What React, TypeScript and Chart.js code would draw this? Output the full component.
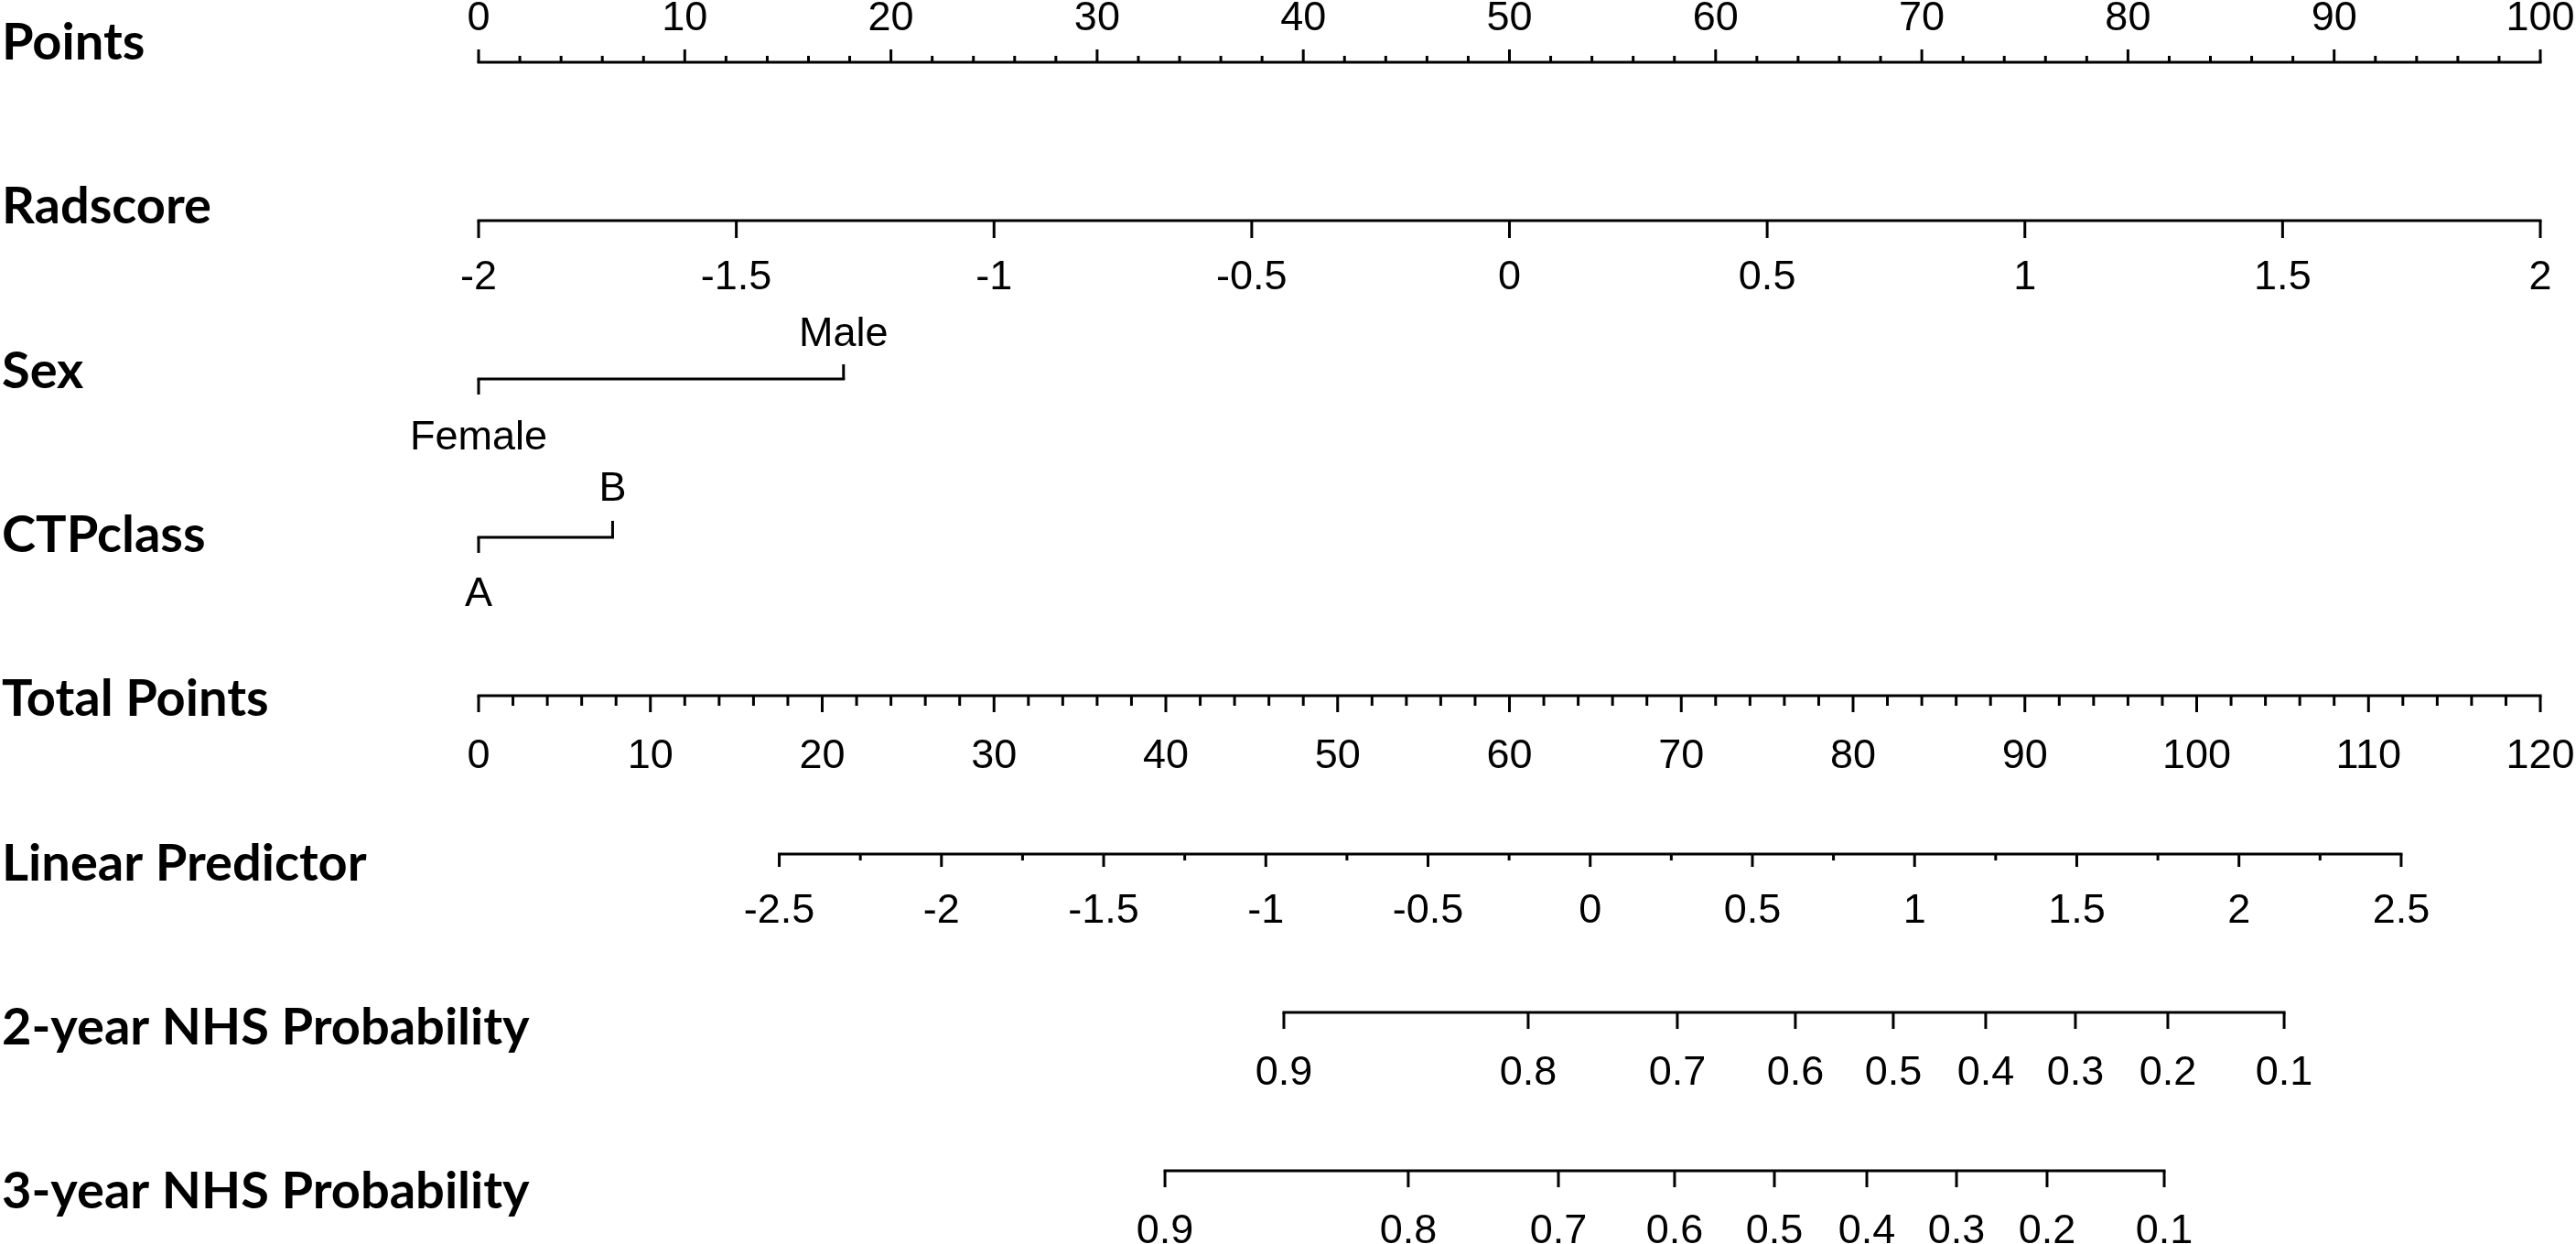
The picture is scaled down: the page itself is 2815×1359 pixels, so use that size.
import React, { useEffect, useRef } from "react";
import { Chart, registerables } from "chart.js";

Chart.register(...registerables);

// ---------------- DATA ----------------
const rowTitles = [
  "Points",
  "Radscore",
  "Sex",
  "CTPclass",
  "Total Points",
  "Linear Predictor",
  "2-year NHS Probability",
  "3-year NHS Probability",
];

// Points scale
const pointsRange = [0, 100];
const pointsMajorStep = 10;
const pointsMinorStep = 2;

// Radscore: value ticks, and the radscore range that spans points 0..100
const radscoreTicks = [-2, -1.5, -1, -0.5, 0, 0.5, 1, 1.5, 2];
const radscoreRange = [-2, 2];

// Sex
const sexLevels = ["Female", "Male"];
const sexPoints = [0, 17.7];

// CTP class
const ctpLevels = ["A", "B"];
const ctpPoints = [0, 6.5];

// Total points scale
const totalRange = [0, 120];
const totalMajorStep = 10;
const totalMinorStep = 2;

// Linear predictor: labelled ticks and total points at its two ends
const lpTicks = [-2.5, -2, -1.5, -1, -0.5, 0, 0.5, 1, 1.5, 2, 2.5];
const lpMinorStep = 0.25;
const lpTotalAtEnds = [17.5, 111.9];

// Survival probabilities and their total-point positions
const probLabels = ["0.9", "0.8", "0.7", "0.6", "0.5", "0.4", "0.3", "0.2", "0.1"];
const prob2yTotal = [46.87, 61.09, 69.77, 76.64, 82.34, 87.72, 92.94, 98.32, 105.09];
const prob3yTotal = [39.95, 54.11, 62.85, 69.61, 75.42, 80.8, 86.02, 91.29, 98.11];

// ---------------- STYLE ----------------
const TICK_FONT = '45px "Liberation Sans", Arial, sans-serif';
const TITLE_FONT = 'bold 56px Lato, "Open Sans", sans-serif';
const TITLE_FIRST_BASELINE = 65;
const TITLE_STEP = 179.3;
const LINE_W = 3;

type TickSpec = { v: number; len: number; label?: string; dy?: number };
type RowSpec = { row: number; axis: "x" | "xt"; ticks: TickSpec[] };

function fmt(v: number) {
  return String(Math.round(v * 100) / 100);
}

function buildRows(): RowSpec[] {
  const rows: RowSpec[] = [];
  // Points
  {
    const ticks: TickSpec[] = [];
    const n = Math.round((pointsRange[1] - pointsRange[0]) / pointsMinorStep);
    const per = Math.round(pointsMajorStep / pointsMinorStep);
    for (let i = 0; i <= n; i++) {
      const v = pointsRange[0] + i * pointsMinorStep;
      if (i % per === 0) ticks.push({ v, len: -14, label: fmt(v), dy: -35 });
      else ticks.push({ v, len: -7 });
    }
    rows.push({ row: 0, axis: "x", ticks });
  }
  // Radscore
  {
    const ticks = radscoreTicks.map((r) => ({
      v:
        pointsRange[0] +
        ((r - radscoreRange[0]) / (radscoreRange[1] - radscoreRange[0])) *
          (pointsRange[1] - pointsRange[0]),
      len: 19,
      label: fmt(r),
      dy: 75,
    }));
    rows.push({ row: 1, axis: "x", ticks });
  }
  // Sex
  rows.push({
    row: 2,
    axis: "x",
    ticks: [
      { v: sexPoints[0], len: 17, label: sexLevels[0], dy: 77 },
      { v: sexPoints[1], len: -16, label: sexLevels[1], dy: -36 },
    ],
  });
  // CTP
  rows.push({
    row: 3,
    axis: "x",
    ticks: [
      { v: ctpPoints[0], len: 17, label: ctpLevels[0], dy: 75 },
      { v: ctpPoints[1], len: -18, label: ctpLevels[1], dy: -40 },
    ],
  });
  // Total points
  {
    const ticks: TickSpec[] = [];
    const n = Math.round((totalRange[1] - totalRange[0]) / totalMinorStep);
    const per = Math.round(totalMajorStep / totalMinorStep);
    for (let i = 0; i <= n; i++) {
      const v = totalRange[0] + i * totalMinorStep;
      if (i % per === 0) ticks.push({ v, len: 18, label: fmt(v), dy: 79 });
      else ticks.push({ v, len: 11 });
    }
    rows.push({ row: 4, axis: "xt", ticks });
  }
  // Linear predictor
  {
    const lpMin = lpTicks[0];
    const lpMax = lpTicks[lpTicks.length - 1];
    const toTotal = (l: number) =>
      lpTotalAtEnds[0] + ((l - lpMin) / (lpMax - lpMin)) * (lpTotalAtEnds[1] - lpTotalAtEnds[0]);
    const ticks: TickSpec[] = [];
    const n = Math.round((lpMax - lpMin) / lpMinorStep);
    for (let i = 0; i <= n; i++) {
      const l = lpMin + i * lpMinorStep;
      const isMajor = lpTicks.some((t) => Math.abs(t - l) < 1e-9);
      if (isMajor) ticks.push({ v: toTotal(l), len: 14, label: fmt(l), dy: 75 });
      else ticks.push({ v: toTotal(l), len: 7 });
    }
    rows.push({ row: 5, axis: "xt", ticks });
  }
  // Probabilities
  rows.push({
    row: 6,
    axis: "xt",
    ticks: prob2yTotal.map((t, i) => ({ v: t, len: 18, label: probLabels[i], dy: 79 })),
  });
  rows.push({
    row: 7,
    axis: "xt",
    ticks: prob3yTotal.map((t, i) => ({ v: t, len: 18, label: probLabels[i], dy: 79 })),
  });
  return rows;
}

export default function App() {
  const ref = useRef<HTMLCanvasElement | null>(null);

  useEffect(() => {
    document.body.style.margin = "0";
    const canvas = ref.current;
    if (!canvas) return;
    const rows = buildRows();

    const datasets = rows.map((r) => {
      const vals = r.ticks.map((t) => t.v);
      return {
        type: "line" as const,
        data: [
          { x: Math.min(...vals), y: r.row },
          { x: Math.max(...vals), y: r.row },
        ],
        xAxisID: r.axis,
        yAxisID: "y",
        borderColor: "#000",
        borderWidth: LINE_W,
        borderCapStyle: "square" as const,
        pointRadius: 0,
        fill: false,
        clip: false as any,
      };
    });

    const nomogramPlugin = {
      id: "nomogram",
      afterDatasetsDraw(chart: any) {
        const ctx: CanvasRenderingContext2D = chart.ctx;
        const ys = chart.scales.y;
        ctx.save();
        ctx.strokeStyle = "#000";
        ctx.fillStyle = "#000";
        ctx.lineWidth = LINE_W;
        ctx.lineCap = "butt";
        ctx.font = TICK_FONT;
        ctx.textAlign = "center";
        ctx.textBaseline = "alphabetic";
        rows.forEach((r) => {
          const xs = chart.scales[r.axis];
          const py = ys.getPixelForValue(r.row);
          r.ticks.forEach((t) => {
            const px = xs.getPixelForValue(t.v);
            ctx.beginPath();
            ctx.moveTo(px, py);
            ctx.lineTo(px, py + t.len);
            ctx.stroke();
            if (t.label !== undefined) {
              ctx.fillText(t.label, px, py + (t.dy || 0));
            }
          });
        });
        ctx.font = TITLE_FONT;
        ctx.textAlign = "left";
        rowTitles.forEach((title, i) => {
          ctx.fillText(title, 2, TITLE_FIRST_BASELINE + i * TITLE_STEP);
        });
        ctx.restore();
      },
    };

    const chart = new Chart(canvas, {
      type: "line",
      data: { datasets: datasets as any },
      options: {
        responsive: false,
        animation: false,
        events: [],
        layout: { padding: { left: 523, right: 39, top: 68, bottom: 80 } },
        scales: {
          x: { type: "linear", min: pointsRange[0], max: pointsRange[1], display: false },
          xt: { type: "linear", axis: "x", min: totalRange[0], max: totalRange[1], display: false },
          y: { type: "linear", min: 0, max: 7, reverse: true, display: false },
        } as any,
        plugins: {
          legend: { display: false },
          tooltip: { enabled: false },
        },
      },
      plugins: [nomogramPlugin],
    });
    return () => chart.destroy();
  }, []);

  return (
    <div style={{ width: 2815, height: 1359, background: "#fff" }}>
      <canvas ref={ref} width={2815} height={1359} style={{ display: "block" }} />
    </div>
  );
}
